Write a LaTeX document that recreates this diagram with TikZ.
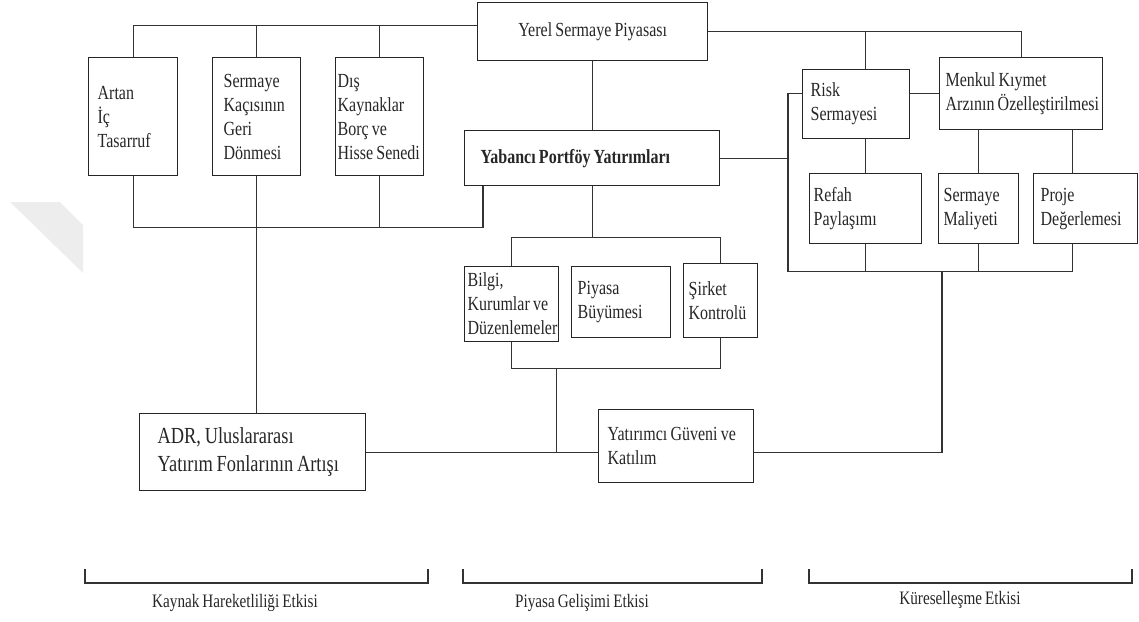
\documentclass[tikz,border=0pt]{standalone}
\usepackage{fontspec}
\setmainfont{Liberation Serif}[FakeStretch=0.8, WordSpace=0.8]
\usepackage{tikz}
\usetikzlibrary{positioning}
\tikzstyle{kutu} = [rectangle, draw=black!85, line width=1.3pt, anchor=north west, align=flush left, inner ysep=2pt, text=black!85, font=\fontsize{20}{24}\selectfont]
\tikzstyle{hat} = [draw=black!80, line width=1.3pt]
\tikzstyle{etiket} = [text=black!85, font=\fontsize{19}{23}\selectfont]

\begin{document}
\begin{tikzpicture}[x=1pt, y=-1pt]
    \useasboundingbox (0,0) rectangle (1139,621);
    \fill [black!7] (10,202) -- (60,202) -- (83,225) -- (83,273) -- cycle;

    % Nodes
    \node (yerel) [kutu, align=center, minimum width=230pt, minimum height=58pt] at (477,2) {Yerel Sermaye Piyasası};
    \node (artan) [kutu, inner xsep=9pt, text width=71pt, minimum height=118pt] at (88,57) {Artan\\İç\\Tasarruf};
    \node (kacis) [kutu, inner xsep=11pt, text width=66pt, minimum height=118pt] at (212,57) {Sermaye\\Kaçısının\\Geri\\Dönmesi};
    \node (dis) [kutu, inner xsep=2pt, text width=84pt, minimum height=118pt] at (335,57) {Dış\\Kaynaklar\\Borç ve\\\mbox{Hisse Senedi}};
    \node (yabanci) [kutu, inner xsep=16pt, text width=223pt, minimum height=55pt, font=\fontsize{20}{24}\selectfont\bfseries] at (464,130) {Yabancı Portföy Yatırımları};

    \node (risk) [kutu, inner xsep=8pt, text width=91pt, minimum height=69pt] at (802,69) {Risk\\Sermayesi};
    \node (menkul) [kutu, inner xsep=6pt, text width=151pt, minimum height=72pt] at (939,57) {Menkul Kıymet\\\mbox{Arzının Özelleştirilmesi}};
    \node (refah) [kutu, inner xsep=4pt, text width=104pt, minimum height=70pt] at (809,173) {Refah\\Paylaşımı};
    \node (maliyet) [kutu, inner xsep=5pt, text width=70pt, minimum height=70pt] at (938,173) {Sermaye\\Maliyeti};
    \node (proje) [kutu, inner xsep=7pt, text width=90pt, minimum height=70pt] at (1033,173) {Proje\\Değerlemesi};

    \node (bilgi) [kutu, inner xsep=3pt, text width=88pt, minimum height=75pt] at (464,266) {Bilgi,\\Kurumlar ve\\Düzenlemeler};
    \node (buyume) [kutu, inner xsep=6pt, text width=87pt, minimum height=71pt] at (571,266) {Piyasa\\Büyümesi};
    \node (sirket) [kutu, inner xsep=5pt, text width=64pt, minimum height=74pt] at (683,263) {Şirket\\Kontrolü};

    \node (adr) [kutu, inner xsep=18pt, text width=190pt, minimum height=77pt, font=\fontsize{23}{28}\selectfont] at (139,413) {ADR, Uluslararası\\Yatırım Fonlarının Artışı};
    \node (yatirimci) [kutu, inner xsep=9pt, text width=137pt, minimum height=73pt] at (598,409) {Yatırımcı Güveni ve\\Katılım};

    % Lines
    \coordinate (ustsol) at ([yshift=6pt]yerel.west);
    \draw [hat] (artan.north) |- (ustsol);
    \draw [hat] (kacis.north) -- (kacis.north |- ustsol);
    \draw [hat] (dis.north) -- (dis.north |- ustsol);
    \draw [hat] (yerel.east) -| (menkul.north);
    \draw [hat] (refah.north |- risk.north) -- (refah.north |- yerel.east);
    \draw [hat] (refah.north) -- (refah.north |- risk.south);
    \draw [hat] (menkul.west) -- (menkul.west -| risk.east);
    \draw [hat] (yerel.south) -- (yerel.south |- yabanci.north);

    \draw [hat] (artan.south) -- ++(0,51) coordinate (altsol) -| ([xshift=19pt]yabanci.south west);
    \draw [hat] (dis.south) -- (dis.south |- altsol);
    \draw [hat] (kacis.south) -- (kacis.south |- adr.north);

    \draw [hat] (yabanci.south) -- ++(0,51) coordinate (ortaust);
    \draw [hat] (bilgi.north) |- (ortaust) -| (sirket.north);
    \draw [hat] (bilgi.south) -- ++(0,26) coordinate (ortaalt) -| (sirket.south);
    \draw [hat] ([xshift=45pt]ortaalt) -- ([xshift=45pt]ortaalt |- adr.east);
    \draw [hat] (adr.east) -- (adr.east -| yatirimci.west);

    \coordinate (sagust) at ([xshift=-14pt]risk.west |- menkul.west);
    \draw [hat] (yabanci.east) -- (yabanci.east -| sagust);
    \draw [hat] (risk.west |- menkul.west) -- (sagust) -- ++(0,178) coordinate (sagalt) -| ([xshift=-13pt]proje.south);
    \draw [hat] (refah.south) -- (refah.south |- sagalt);
    \draw [hat] (maliyet.south) -- (maliyet.south |- sagalt);
    \draw [hat] (maliyet.north) -- (maliyet.north |- menkul.south);
    \draw [hat] ([xshift=-13pt]proje.north) -- ([xshift=-13pt]proje.north |- menkul.south);
    \draw [hat] (yatirimci.east |- adr.east) -| ([xshift=154pt]sagalt);

    % Brackets
    \draw [hat] (85,569) |- (428,583) -- (428,569);
    \draw [hat] (463,569) |- (762,583) -- (762,569);
    \draw [hat] (809,569) |- (1132,583) -- (1132,569);
    \node (etki1) [etiket] at (235,603) {Kaynak Hareketliliği Etkisi};
    \node (etki2) [etiket] at (582,603) {Piyasa Gelişimi Etkisi};
    \node (etki3) [etiket] at (960,600) {Küreselleşme Etkisi};
\end{tikzpicture}
\end{document}
